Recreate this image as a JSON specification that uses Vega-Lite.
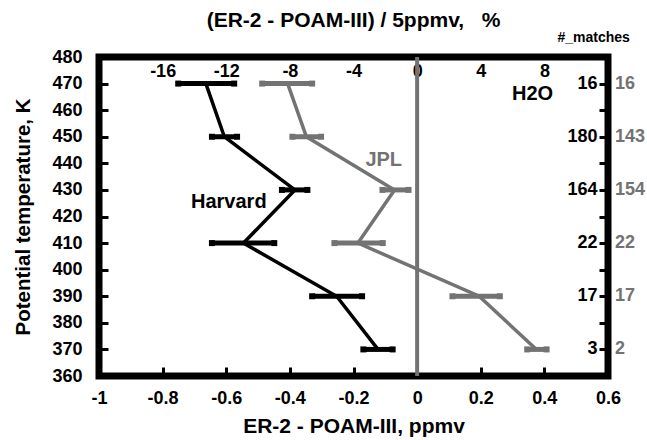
{
  "$schema": "https://vega.github.io/schema/vega-lite/v6.json",
  "width": 509,
  "height": 319,
  "autosize": {"type": "none"},
  "padding": {"left": 99, "top": 57, "right": 39, "bottom": 64},
  "title": {
    "text": "(ER-2 - POAM-III) / 5ppmv,\u00a0\u00a0\u00a0%",
    "font": "Liberation Sans",
    "fontSize": 21,
    "fontWeight": "bold",
    "color": "black",
    "anchor": "middle",
    "offset": 0
  },
  "config": {
    "view": {"stroke": "black", "strokeWidth": 7},
    "font": "Liberation Sans",
    "axis": {
      "labelFont": "Liberation Sans",
      "labelFontWeight": "bold",
      "labelFontSize": 18,
      "labelColor": "black",
      "titleFont": "Liberation Sans",
      "titleFontWeight": "bold",
      "titleFontSize": 20.5,
      "titleColor": "black",
      "grid": false,
      "domain": false,
      "tickColor": "black",
      "tickWidth": 3,
      "tickSize": -9,
      "labelOverlap": false,
      "labelFlush": false
    }
  },
  "datasets": {
    "prof": [
      {"group": "Harvard", "theta": 470, "val": -0.664, "lo": -0.751, "hi": -0.575, "n": 16},
      {"group": "Harvard", "theta": 450, "val": -0.606, "lo": -0.645, "hi": -0.566, "n": 180},
      {"group": "Harvard", "theta": 430, "val": -0.384, "lo": -0.425, "hi": -0.345, "n": 164},
      {"group": "Harvard", "theta": 410, "val": -0.546, "lo": -0.645, "hi": -0.449, "n": 22},
      {"group": "Harvard", "theta": 390, "val": -0.253, "lo": -0.33, "hi": -0.173, "n": 17},
      {"group": "Harvard", "theta": 370, "val": -0.123, "lo": -0.169, "hi": -0.077, "n": 3},
      {"group": "JPL", "theta": 470, "val": -0.407, "lo": -0.487, "hi": -0.33, "n": 16},
      {"group": "JPL", "theta": 450, "val": -0.348, "lo": -0.392, "hi": -0.302, "n": 143},
      {"group": "JPL", "theta": 430, "val": -0.071, "lo": -0.109, "hi": -0.027, "n": 154},
      {"group": "JPL", "theta": 410, "val": -0.186, "lo": -0.26, "hi": -0.108, "n": 22},
      {"group": "JPL", "theta": 390, "val": 0.195, "lo": 0.111, "hi": 0.26, "n": 17},
      {"group": "JPL", "theta": 370, "val": 0.375, "lo": 0.346, "hi": 0.407, "n": 2}
    ],
    "notes": [
      {"label": "Harvard", "x": -0.592, "y": 425.4, "kind": "black"},
      {"label": "H2O", "x": 0.363, "y": 466.2, "kind": "black"},
      {"label": "JPL", "x": -0.105, "y": 441.1, "kind": "gray"},
      {"label": "#_matches", "x": 0.555, "y": 487.3, "kind": "head"}
    ]
  },
  "resolve": {"axis": {"x": "independent", "y": "independent"}},
  "layer": [
    {
      "data": {"values": [{"z": 0}]},
      "mark": {"type": "rule", "color": "#737373", "strokeWidth": 4},
      "encoding": {
        "x": {
          "field": "z",
          "type": "quantitative",
          "scale": {"domain": [-1, 0.6], "nice": false, "zero": false},
          "axis": {
            "orient": "bottom",
            "values": [-1, -0.8, -0.6, -0.4, -0.2, 0, 0.2, 0.4, 0.6],
            "labelExpr": "toString(datum.value)",
            "labelPadding": 22,
            "title": "ER-2 - POAM-III, ppmv",
            "titleFontSize": 21,
            "titlePadding": 8
          }
        }
      }
    },
    {
      "data": {"name": "prof"},
      "mark": {"type": "rule", "strokeWidth": 5},
      "encoding": {
        "x": {
          "field": "lo",
          "type": "quantitative",
          "axis": {
            "orient": "top",
            "values": [-0.8, -0.6, -0.4, -0.2, 0, 0.2, 0.4],
            "labelExpr": "toString(round(datum.value*20))",
            "ticks": false,
            "labelBaseline": "alphabetic",
            "labelPadding": -19,
            "title": null
          }
        },
        "x2": {"field": "hi"},
        "y": {
          "field": "theta",
          "type": "quantitative",
          "scale": {"domain": [360, 480], "nice": false, "zero": false},
          "axis": {
            "orient": "left",
            "values": [360, 370, 380, 390, 400, 410, 420, 430, 440, 450, 460, 470, 480],
            "labelPadding": 26,
            "title": "Potential temperature, K",
            "titlePadding": 18
          }
        },
        "color": {
          "field": "group",
          "type": "nominal",
          "scale": {"domain": ["Harvard", "JPL"], "range": ["#000000", "#737373"]},
          "legend": null
        }
      }
    },
    {
      "data": {"name": "prof"},
      "mark": {"type": "point", "shape": "square", "filled": true, "size": 36, "opacity": 1},
      "encoding": {
        "x": {"field": "lo", "type": "quantitative", "axis": null},
        "y": {"field": "theta", "type": "quantitative", "axis": null},
        "color": {"field": "group", "type": "nominal", "legend": null}
      }
    },
    {
      "data": {"name": "prof"},
      "mark": {"type": "point", "shape": "square", "filled": true, "size": 36, "opacity": 1},
      "encoding": {
        "x": {"field": "hi", "type": "quantitative", "axis": null},
        "y": {"field": "theta", "type": "quantitative", "axis": null},
        "color": {"field": "group", "type": "nominal", "legend": null}
      }
    },
    {
      "data": {"name": "prof"},
      "mark": {"type": "line", "strokeWidth": 3.5},
      "encoding": {
        "x": {"field": "val", "type": "quantitative", "axis": null},
        "y": {
          "field": "theta",
          "type": "quantitative",
          "axis": {
            "orient": "right",
            "values": [360, 370, 380, 390, 400, 410, 420, 430, 440, 450, 460, 470, 480],
            "labels": false,
            "title": null
          }
        },
        "color": {"field": "group", "type": "nominal", "legend": null},
        "order": {"field": "theta", "type": "quantitative"}
      }
    },
    {
      "data": {"name": "prof"},
      "transform": [{"filter": "datum.group === 'Harvard'"}],
      "mark": {"type": "text", "align": "right", "baseline": "middle", "fontSize": 18, "fontWeight": "bold", "color": "black", "font": "Liberation Sans"},
      "encoding": {
        "x": {"datum": 0.567, "type": "quantitative", "axis": null},
        "y": {"field": "theta", "type": "quantitative", "axis": null},
        "text": {"field": "n", "type": "quantitative"}
      }
    },
    {
      "data": {"name": "prof"},
      "transform": [{"filter": "datum.group === 'JPL'"}],
      "mark": {"type": "text", "align": "left", "baseline": "middle", "fontSize": 18, "fontWeight": "bold", "color": "#737373", "font": "Liberation Sans"},
      "encoding": {
        "x": {"datum": 0.622, "type": "quantitative", "axis": null},
        "y": {"field": "theta", "type": "quantitative", "axis": null},
        "text": {"field": "n", "type": "quantitative"}
      }
    },
    {
      "data": {"name": "notes"},
      "transform": [{"filter": "datum.kind === 'black'"}],
      "mark": {"type": "text", "align": "center", "baseline": "middle", "fontSize": 20, "fontWeight": "bold", "color": "black", "font": "Liberation Sans"},
      "encoding": {
        "x": {"field": "x", "type": "quantitative", "axis": null},
        "y": {"field": "y", "type": "quantitative", "axis": null},
        "text": {"field": "label", "type": "nominal"}
      }
    },
    {
      "data": {"name": "notes"},
      "transform": [{"filter": "datum.kind === 'gray'"}],
      "mark": {"type": "text", "align": "center", "baseline": "middle", "fontSize": 20, "fontWeight": "bold", "color": "#737373", "font": "Liberation Sans"},
      "encoding": {
        "x": {"field": "x", "type": "quantitative", "axis": null},
        "y": {"field": "y", "type": "quantitative", "axis": null},
        "text": {"field": "label", "type": "nominal"}
      }
    },
    {
      "data": {"name": "notes"},
      "transform": [{"filter": "datum.kind === 'head'"}],
      "mark": {"type": "text", "align": "center", "baseline": "middle", "fontSize": 14, "fontWeight": "bold", "color": "black", "font": "Liberation Sans"},
      "encoding": {
        "x": {"field": "x", "type": "quantitative", "axis": null},
        "y": {"field": "y", "type": "quantitative", "axis": null},
        "text": {"field": "label", "type": "nominal"}
      }
    }
  ]
}
